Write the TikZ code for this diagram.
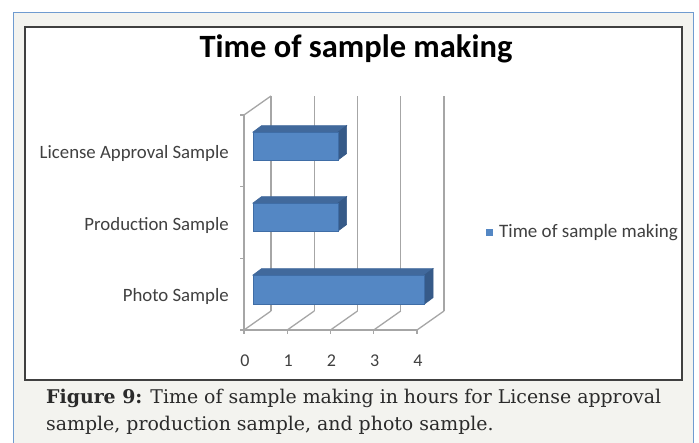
\documentclass[tikz,border=0pt]{standalone}
\usepackage{fontspec}
\usetikzlibrary{calc}
\setmainfont{DejaVu Serif}
\newfontfamily\chartfont{Carlito}
\definecolor{bggray}{HTML}{F3F3EF}
\definecolor{frameblue}{HTML}{6F9BD0}
\definecolor{gridgray}{HTML}{A6A6A6}
\definecolor{labelgray}{HTML}{404040}
\definecolor{barfront}{HTML}{5487C4}
\definecolor{bartop}{HTML}{41699C}
\definecolor{barside}{HTML}{365A88}
\definecolor{baredge}{HTML}{3F6DA6}
\definecolor{captext}{HTML}{2A2A2A}
\tikzset{
  grid line/.style={draw=gridgray, line width=1.3pt},
  cat label/.style={anchor=east, text=labelgray, font=\chartfont\fontsize{18.8}{22}\selectfont, inner sep=0pt},
  num label/.style={text=labelgray, font=\chartfont\fontsize{18}{22}\selectfont, inner sep=0pt},
  bar front/.style={fill=barfront, draw=baredge, line width=0.6pt},
  bar top/.style={fill=bartop, draw=bartop, line width=0.6pt},
  bar side/.style={fill=barside, draw=barside, line width=0.6pt},
}
\begin{document}
\begin{tikzpicture}[x=1pt,y=-1pt]
\useasboundingbox (0,0) rectangle (699,443);
\fill[white] (0,0) rectangle (699,443);
\fill[bggray] (13,13) rectangle (693,443);
\draw[frameblue, line width=1pt] (13,443) -- (13,13) -- (693,13) -- (693,443);
\draw[fill=white, draw=black!75, line width=1.3pt] (25,27) rectangle (682,380);
% title
\node[anchor=base, font=\chartfont\bfseries\fontsize{32.5}{38}\selectfont, text=black] (title) at (356,58) {Time of sample making};
% axes and gridlines
\def\ux{43.25}
\foreach \k in {0,...,4} {
  \coordinate (f\k) at ({244+\k*\ux},330);
  \coordinate (b\k) at ({271+\k*\ux},311);
  \coordinate (t\k) at ({271+\k*\ux},96);
  \draw[grid line] (b\k) -- (t\k);
  \draw[grid line] (f\k) -- (b\k);
  \draw[grid line] (f\k) -- ++(0,4);
  \node[num label] (n\k) at ({245+\k*\ux},361) {\k};
}
\coordinate (lw) at (244,115);
\draw[grid line] (lw) -- (f0);
\draw[grid line] (lw) -- (t0);
\draw[grid line] (f0) -- (f4);
\foreach \y in {115,186.7,258.3,330} \draw[grid line] (240,\y) -- (244,\y);
% bars
\def\dx{8.6}\def\dy{-6.4}
\foreach \name/\val/\yt/\yb in {lic/2/132/160, pro/2/203/231, pho/4/275/304} {
  \pgfmathsetmacro\xr{253+\val*\ux-1.5}
  \coordinate (\name fl) at (253,\yt);
  \coordinate (\name fr) at (\xr,\yt);
  \coordinate (\name br) at (\xr,\yb);
  \fill[bar top] (\name fl) -- (\name fr) -- ++(\dx,\dy) -- ($(\name fl)+(\dx,\dy)$) -- cycle;
  \fill[bar side] (\name fr) -- ++(\dx,\dy) -- ++(0,{\yb-\yt}) -- (\name br) -- cycle;
  \draw[bar front] (\name fl) rectangle (\name br);
}
% category labels
\node[cat label] (l1) at (229,153) {License Approval Sample};
\node[cat label] (l2) at (229,225) {Production Sample};
\node[cat label] (l3) at (229,296) {Photo Sample};
% legend
\node[fill=barfront, minimum size=7pt, inner sep=0pt] (legsq) at (489,233) {};
\node[anchor=west, text=labelgray, font=\chartfont\fontsize{19}{22}\selectfont, inner sep=0pt] (legtx) at (499,233) {Time of sample making};
% caption
\node[anchor=north west, align=left, inner sep=0pt, text=captext, font=\fontsize{18.9}{27}\selectfont] (cap) at (46,389)
  {\textbf{Figure 9:} Time of sample making in hours for License approval\\sample, production sample, and photo sample.};
\end{tikzpicture}
\end{document}
